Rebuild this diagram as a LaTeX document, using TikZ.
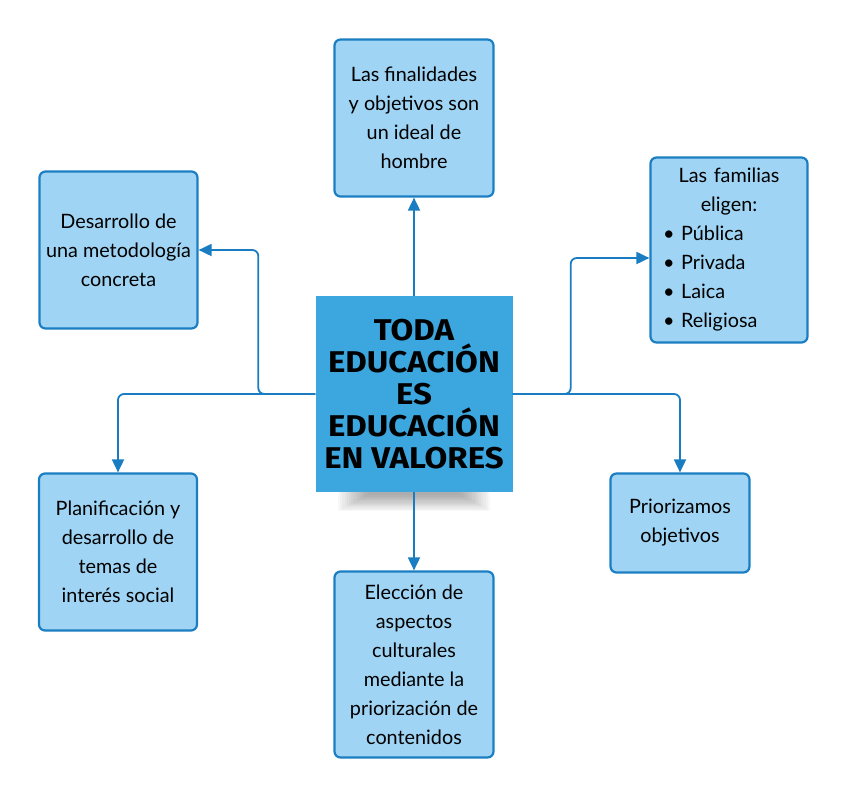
\documentclass[tikz,border=0pt]{standalone}
\usepackage{fontspec}
\newfontfamily\boxfont{Lato}
\newfontfamily\titlefont[FakeStretch=1.1]{Fira Sans}
\usetikzlibrary{arrows.meta,calc}
\definecolor{boxfill}{HTML}{9FD4F4}
\definecolor{boxborder}{HTML}{1C7EC2}
\definecolor{centerfill}{HTML}{3CA6DF}
\definecolor{linecol}{HTML}{1A7CC1}
\tikzset{
  box/.style={draw=boxborder, line width=2.2pt, fill=boxfill, rounded corners=6pt,
    align=center, inner sep=0pt, text=black,
    font=\boxfont\fontsize{19.8}{29}\selectfont},
  centerbox/.style={fill=centerfill, inner sep=0pt, align=center, text=black,
    minimum width=197pt, minimum height=196pt,
    font=\titlefont\bfseries\fontsize{30}{32}\selectfont},
  conn/.style={draw=linecol, line width=1.8pt, rounded corners=6pt,
    -{Triangle[length=13pt,width=12pt]}}
}
\begin{document}
\begin{tikzpicture}[x=1pt,y=-1pt]
\useasboundingbox (0,0) rectangle (848,797);
% soft shadow under central box
\foreach \i in {0,...,13}
  \fill[black,opacity=0.028] (338+2.2*\i,320) rectangle (490-2.2*\i,511-1.2*\i);
\node[centerbox] (c) at (414,394) {TODA\\EDUCACIÓN\\ES\\EDUCACIÓN\\EN VALORES};
\node[box, minimum width=159pt, minimum height=157pt] (t) at (414,118)
  {Las finalidades\\y objetivos son\\un ideal de\\hombre};
\node[box, minimum width=158pt, minimum height=157pt] (lt) at (118.5,250)
  {Desarrollo de\\una metodología\\concreta};
\node[box, minimum width=157pt, minimum height=185pt, text width=132pt, align=left] (rt) at (729,250)
  {{\centering Las familias\\eligen:\par}• Pública\\• Privada\\• Laica\\• Religiosa};
\node[box, minimum width=158pt, minimum height=157pt] (lb) at (118,552)
  {Planificación y\\desarrollo de\\temas de\\interés social};
\node[box, minimum width=139pt, minimum height=99pt] (rb) at (680,523)
  {Priorizamos\\objetivos};
\node[box, minimum width=159pt, minimum height=186pt] (b) at (414,664.5)
  {Elección de\\aspectos\\culturales\\mediante la\\priorización de\\contenidos};
% connectors
\draw[conn] (c.north) -- (t.south);
\draw[conn] (c.south) -- (b.north);
\draw[conn] (c.west) -- ++(-57,0) |- (lt.east);
\draw[conn] (c.west) -| (lb.north);
\draw[conn] (c.east) -- ++(58,0) |- ($(rt.west)+(0,8)$);
\draw[conn] (c.east) -| (rb.north);
\end{tikzpicture}
\end{document}
